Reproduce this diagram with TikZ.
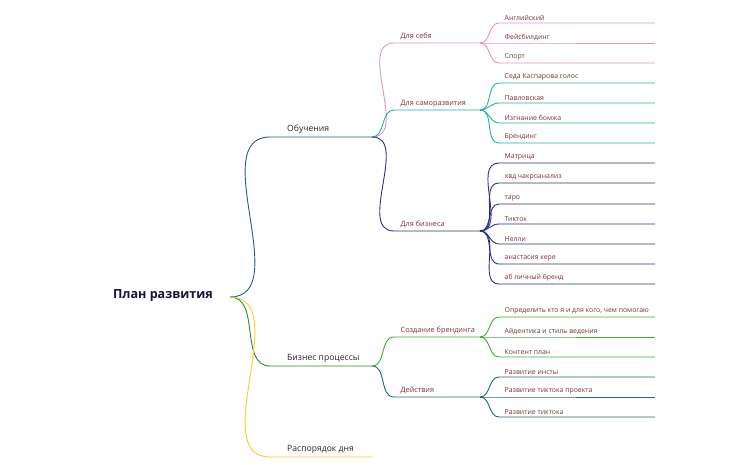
\documentclass[tikz,border=0pt]{standalone}
\usepackage{fontspec}
\setmainfont{Open Sans}
\definecolor{cpink}{HTML}{E892C2}
\definecolor{cteal}{HTML}{1FB3A0}
\definecolor{cnavy}{HTML}{27308A}
\definecolor{cgreen}{HTML}{3DAF2C}
\definecolor{cdteal}{HTML}{1F6B6B}
\definecolor{cblue}{HTML}{1F5C9E}
\definecolor{cbgreen}{HTML}{2A8A2A}
\definecolor{cyel}{HTML}{F0D21E}
\definecolor{leaftxt}{HTML}{7A3333}
\begin{document}
\begin{tikzpicture}[x=1pt,y=-1pt,
  br/.style={line width=0.9pt},
  leaf/.style={anchor=south west,inner sep=2.5pt,font=\fontsize{6.9}{8}\selectfont,text=leaftxt},
  mid/.style={anchor=south west,inner sep=2.5pt,font=\fontsize{7.3}{8}\selectfont,text=leaftxt},
  top/.style={anchor=south west,inner sep=3pt,font=\fontsize{8.6}{10}\selectfont,text=black!85},
  curve/.style={out=0,in=180}]
\useasboundingbox (0,0) rectangle (751,465);
\node[font=\fontsize{12.6}{14}\selectfont\bfseries,text={rgb,255:red,20;green,20;blue,60}] (root) at (163,296) {План развития};
\coordinate (r) at (230,297);
% level 1
\foreach \n/\y/\t/\c in {A/137/Обучения/cblue, B/366/Бизнес процессы/cbgreen, C/457/Распорядок дня/cyel}{
  \coordinate (\n s) at (270,\y);
  \coordinate (\n e) at (372,\y);
  \node[top] (\n t) at (284,\y) {\t};
  \draw[br,\c] (r) to[curve] (\n s) -- (\n e);
}
% level 2
\foreach \n/\p/\y/\t/\c in {A1/A/43/Для себя/cpink, A2/A/110/Для саморазвития/cteal, A3/A/231/Для бизнеса/cnavy, B1/B/337/Создание брендинга/cgreen, B2/B/397/Действия/cdteal}{
  \coordinate (\n s) at (394,\y);
  \coordinate (\n e) at (480,\y);
  \node[mid] (\n t) at (398,\y) {\t};
  \draw[br,\c] (\p e) to[curve] (\n s) -- (\n e);
}
% leaves
\foreach \p/\y/\t/\c [count=\i] in {
  A1/23/Английский/cpink, A1/43/Фейсбилдинг/cpink, A1/63/Спорт/cpink,
  A2/83/Седа Каспарова голос/cteal, A2/103/Павловская/cteal, A2/123/Изгнание бомжа/cteal, A2/143/Брендинг/cteal,
  A3/163/Матрица/cnavy, A3/183/хвд чакроанализ/cnavy, A3/204/таро/cnavy, A3/224/Тикток/cnavy, A3/244/Нелли/cnavy, A3/264/анастасия кере/cnavy, A3/284/аб личный бренд/cnavy,
  B1/317/{Определить кто я и для кого, чем помогаю}/cgreen, B1/337/Айдентика и стиль ведения/cgreen, B1/357/Контент план/cgreen,
  B2/377/Развитие инсты/cdteal, B2/397/Развитие тиктока проекта/cdteal, B2/417/Развитие тиктока/cdteal}{
  \coordinate (L\i s) at (499,\y);
  \coordinate (L\i e) at (655,\y);
  \node[leaf] (L\i t) at (502,\y) {\t};
  \draw[br,\c] (\p e) to[curve] (L\i s) -- (L\i e);
}
\end{tikzpicture}
\end{document}
